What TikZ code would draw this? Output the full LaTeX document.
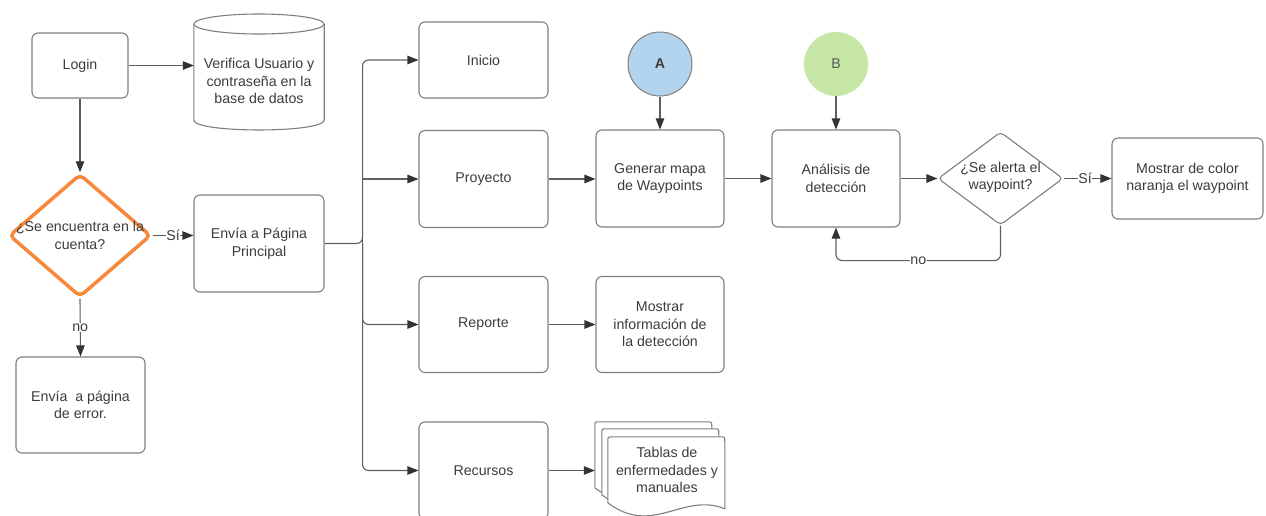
\documentclass[tikz,border=0pt]{standalone}
\usepackage{fontspec}
\setmainfont{Liberation Sans}
\usetikzlibrary{arrows.meta,shapes.geometric,calc}
\definecolor{txt}{HTML}{3C3C3C}
\definecolor{edge}{HTML}{7F7F7F}
\definecolor{wire}{HTML}{5E5E5E}
\definecolor{tip}{HTML}{333333}
\definecolor{orng}{HTML}{F5883A}
\definecolor{blueA}{HTML}{B3D4EF}
\definecolor{greenB}{HTML}{C6E6A6}

\begin{document}
\begin{tikzpicture}[x=1pt,y=-1pt,
  font=\fontsize{14.2}{17.6}\selectfont, text=txt,
  box/.style={draw=edge, line width=1.1pt, rounded corners=6pt, fill=white,
    align=center, inner sep=0pt},
  conn/.style={draw=wire, line width=1.1pt,
    -{Triangle[length=11pt,width=8.5pt,fill=tip,color=tip]}},
  lbl/.style={fill=white, inner sep=0.5pt},
  sheet/.style={draw=edge, line width=1.1pt, fill=white},
  txtnode/.style={align=center, inner sep=0pt}
]
\useasboundingbox (0,0) rectangle (1266,515);

% ---- login column ----
\node[box, minimum width=96pt, minimum height=65pt] (login) at (80,65.5) {Login};

% database cylinder: node gives the anchors, the outline is drawn around it
\node[minimum width=130pt, minimum height=116pt, inner sep=0pt] (db) at (259,72) {};
\draw[sheet] (db.west |- 0,24) -- (db.west |- 0,120)
  .. controls (db.west |- 0,133.3) and (db.east |- 0,133.3) .. (db.east |- 0,120)
  -- (db.east |- 0,24);
\draw[sheet] (db.north |- 0,24) ellipse [x radius=65, y radius=10];
\node[txtnode] (dbt) at (259,81) {Verifica Usuario y\\contraseña en la\\base de datos};

\node[diamond, draw=orng, line width=3.5pt, rounded corners=5pt,
      minimum width=142pt, minimum height=123pt, inner sep=0pt] (d1) at (80,235.5) {};
\node[txtnode] (d1t) at (80,235.5) {¿Se encuentra en la\\cuenta?};

\node[box, minimum width=130pt, minimum height=97pt] (env) at (259,243.5) {Envía a Página\\Principal};
\node[box, minimum width=129pt, minimum height=96pt] (err) at (80.5,405) {Envía~ a página\\de error.};

% ---- main menu ----
\node[box, minimum width=129pt, minimum height=76pt] (ini)  at (483.5,60)    {Inicio};
\node[box, minimum width=129pt, minimum height=97pt] (proj) at (483.5,179)   {Proyecto};
\node[box, minimum width=129pt, minimum height=96pt] (rep)  at (483.5,324.5) {Reporte};
\node[box, minimum width=129pt, minimum height=97pt] (rec)  at (483.5,470.5) {Recursos};

% ---- project flow ----
\node[box, minimum width=128pt, minimum height=97pt] (gen) at (660,178.5) {Generar mapa\\de Waypoints};
\node[circle, draw=edge, line width=1pt, fill=blueA, minimum size=64pt, inner sep=0pt,
      font=\fontsize{14.2}{17.6}\selectfont\bfseries] (A) at (660,64) {A};
\node[box, minimum width=128pt, minimum height=97pt] (ana) at (836,178.5) {Análisis de\\detección};
\node[circle, fill=greenB, minimum size=64pt, inner sep=0pt, text=txt!85] (B) at (836,64) {B};
\node[diamond, draw=edge, line width=1.1pt, rounded corners=4pt,
      minimum width=125pt, minimum height=93pt, inner sep=0pt] (d2) at (1000.5,178.5) {};
\node[txtnode] (d2t) at (1000.5,177.5) {¿Se alerta el\\waypoint?};
\node[box, minimum width=151pt, minimum height=81pt] (most) at (1187.5,178.5) {Mostrar de color\\naranja el waypoint};

% ---- report and resources ----
\node[box, minimum width=128pt, minimum height=96pt] (info) at (660,324.5) {Mostrar\\información de\\la detección};
\node[minimum width=130pt, minimum height=96pt, inner sep=0pt] (docs) at (660,470) {};
\begin{scope}[shift={(docs.north west)}]
  \foreach \dx/\dy in {0/0,7/7,13/15}{
    \draw[sheet] (\dx,\dy+66) -- (\dx,\dy+5) .. controls (\dx,\dy) .. (\dx+5,\dy)
      -- (\dx+112,\dy) .. controls (\dx+117,\dy) .. (\dx+117,\dy+5)
      -- (\dx+117,\dy+72) .. controls (\dx+75,\dy+55) and (\dx+45,\dy+100) .. (\dx,\dy+66) -- cycle;
  }
\end{scope}
\node[txtnode] (doct) at (667,470) {Tablas de\\enfermedades y\\manuales};

% ---- connectors ----
\draw[conn] (login.east) -- (login.east -| db.west);
\draw[conn] (login.south) -- (d1.north);
\draw[conn] (d1.east) -- node[lbl] (si1) {Sí} (d1.east -| env.west);
\draw[conn] (d1.south) -- node[lbl] (no1) {no} (err.north);

\coordinate (bus) at ($(env.east)+(38,0)$);
\draw[conn, rounded corners=6pt] (env.east) -- (bus) |- (ini.west);
\draw[conn] (bus) |- (proj.west);
\draw[conn, rounded corners=6pt] (bus) |- (rep.west);
\draw[conn, rounded corners=6pt] (bus) |- (rec.west);

\draw[conn] (proj.east) -- (proj.east -| gen.west);
\draw[conn] (A.south) -- (gen.north);
\draw[conn] (gen.east) -- (gen.east -| ana.west);
\draw[conn] (B.south) -- (ana.north);
\draw[conn] (ana.east) -- (ana.east -| d2.west);
\draw[conn] (d2.east) -- node[lbl, pos=0.45] (si2) {Sí} (d2.east -| most.west);
\draw[conn, rounded corners=6pt] (d2.south) |- node[lbl, pos=0.75] (no2) {no}
  ($(ana.south)+(0,33)$) -- (ana.south);

\draw[conn] (rep.east) -- (rep.east -| info.west);
\draw[conn] (rec.east) -- (rec.east -| docs.west);
\end{tikzpicture}
\end{document}
